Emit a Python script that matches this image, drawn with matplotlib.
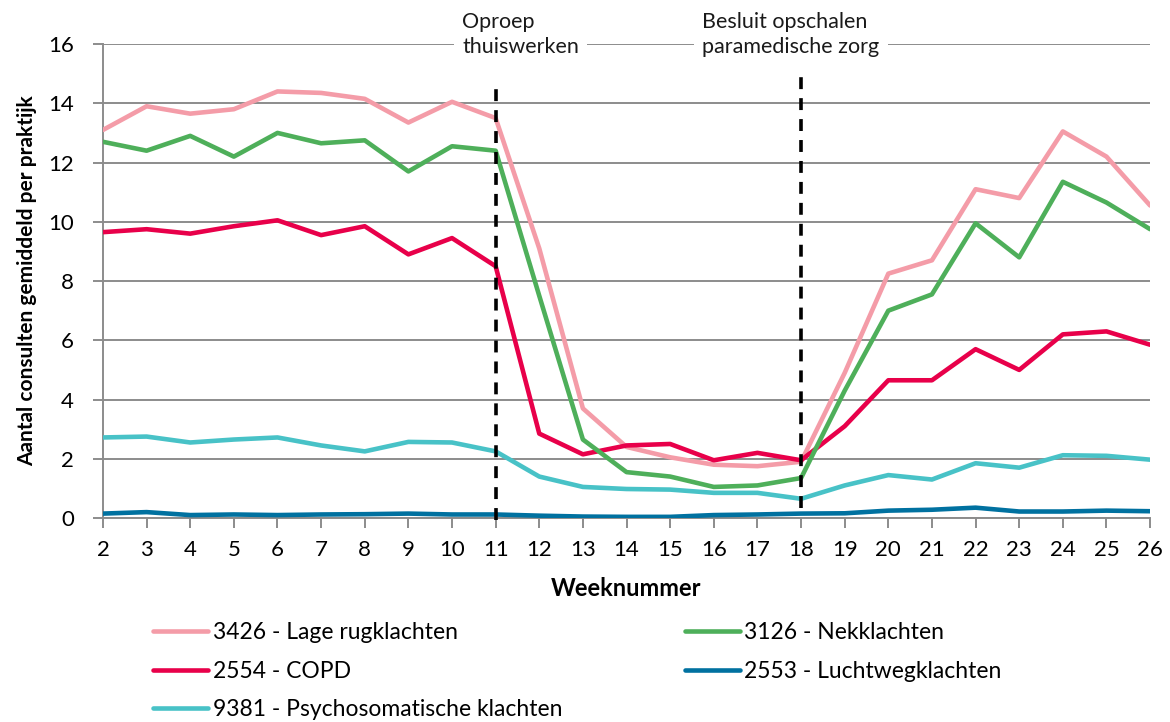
import numpy as np
import matplotlib
matplotlib.use("Agg")
import matplotlib.pyplot as plt

plt.rcParams['font.family'] = ['Lato', 'DejaVu Sans']

# ---- Data ----
weeks = list(range(2, 27))

rug = [13.1, 13.9, 13.65, 13.8, 14.4, 14.35, 14.15, 13.35, 14.05, 13.5,
       9.1, 3.7, 2.4, 2.05, 1.8, 1.75, 1.9, 4.9, 8.25, 8.7,
       11.1, 10.8, 13.05, 12.2, 10.55]
nek = [12.7, 12.4, 12.9, 12.2, 13.0, 12.65, 12.75, 11.7, 12.55, 12.4,
       7.5, 2.65, 1.55, 1.4, 1.05, 1.1, 1.35, 4.3, 7.0, 7.55,
       9.95, 8.8, 11.35, 10.65, 9.75]
copd = [9.65, 9.75, 9.6, 9.85, 10.05, 9.55, 9.85, 8.9, 9.45, 8.5,
        2.85, 2.15, 2.45, 2.5, 1.95, 2.2, 1.95, 3.1, 4.65, 4.65,
        5.7, 5.0, 6.2, 6.3, 5.85]
lucht = [0.15, 0.2, 0.1, 0.12, 0.1, 0.12, 0.13, 0.15, 0.12, 0.12,
         0.08, 0.05, 0.04, 0.04, 0.1, 0.12, 0.15, 0.16, 0.25, 0.28,
         0.35, 0.22, 0.22, 0.25, 0.23]
psycho = [2.72, 2.75, 2.55, 2.65, 2.72, 2.45, 2.25, 2.57, 2.55, 2.25,
          1.4, 1.05, 0.98, 0.96, 0.85, 0.85, 0.65, 1.1, 1.45, 1.3,
          1.85, 1.7, 2.12, 2.1, 1.97]

# legend order (column-major, 2 columns)
series = [
    ("3426 - Lage rugklachten", rug, "#F49CA8"),
    ("2554 - COPD", copd, "#E8004A"),
    ("9381 - Psychosomatische klachten", psycho, "#48C2C7"),
    ("3126 - Nekklachten", nek, "#4EAF5A"),
    ("2553 - Luchtwegklachten", lucht, "#0071A0"),
]

# week, text, text x (weeks), dashed line top, dashed line bottom
events = [(11, "Oproep\nthuiswerken", 10.23, 14.63, -0.05),
          (18, "Besluit opschalen\nparamedische zorg", 15.73, 14.93, 0.33)]

# ---- Plot ----
fig = plt.figure(figsize=(11.7, 7.22), dpi=100)
ax = fig.add_axes([0.088, 0.2825, 0.895, 0.6565])

for label, vals, col in series:
    ax.plot(weeks, vals, color=col, lw=3.3, label=label, zorder=3,
            solid_capstyle="round", solid_joinstyle="round")

for wk, txt, tx, top, bot in events:
    ax.plot([wk, wk], [bot, top], color="black", lw=2.6, ls=(0, (3.3, 2.5)),
            zorder=4, clip_on=False)
    ax.text(tx, 16.32, txt, fontsize=15.5, va="center", ha="left", color="#1a1a1a",
            linespacing=1.3, zorder=5, clip_on=False,
            bbox=dict(facecolor="white", edgecolor="none", pad=6))

ax.set_xlim(2, 26)
ax.set_ylim(0, 16)
ax.set_xticks(weeks)
ax.set_yticks(range(0, 17, 2))
ax.yaxis.grid(True, color="#8C8C8C", lw=1.4)
ax.set_axisbelow(True)
for s in ["top", "right"]:
    ax.spines[s].set_visible(False)
for s in ["left", "bottom"]:
    ax.spines[s].set_color("#8C8C8C")
    ax.spines[s].set_linewidth(1.4)
ax.tick_params(axis="x", direction="out", length=7, width=1.4, color="#8C8C8C",
               labelsize=16, pad=9)
ax.tick_params(axis="y", direction="out", length=7, width=1.4, color="#8C8C8C",
               labelsize=16, pad=14)

ax.set_xlabel("Weeknummer", fontsize=17, fontweight="bold", labelpad=12)
ax.set_ylabel("Aantal consulten gemiddeld per praktijk", fontsize=15,
              fontweight="bold", labelpad=8)

fig.legend(loc="upper left", bbox_to_anchor=(0.1308, 0.138), ncol=2, frameon=False,
           fontsize=16.5, handlelength=2.4, handletextpad=0.2, columnspacing=5.35,
           labelspacing=0.75, borderpad=0, borderaxespad=0)

fig.savefig("out.png", dpi=100)
